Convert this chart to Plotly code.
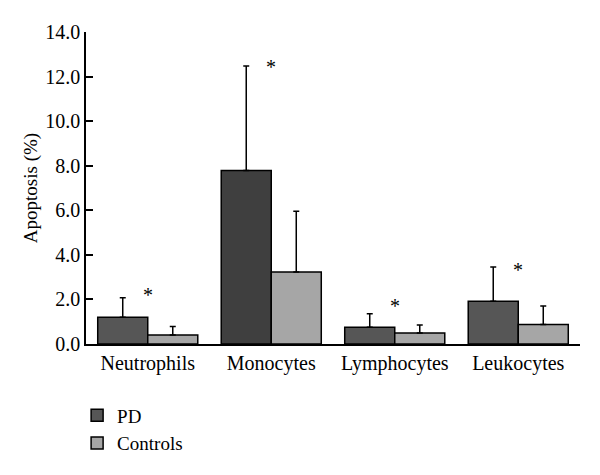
import plotly.graph_objects as go

categories = ["Neutrophils", "Monocytes", "Lymphocytes", "Leukocytes"]
pd_values = [1.20, 7.79, 0.75, 1.92]
pd_err = [0.88, 4.68, 0.61, 1.54]
ctrl_values = [0.40, 3.23, 0.49, 0.88]
ctrl_err = [0.39, 2.73, 0.36, 0.82]
star_y = [2.3, 12.5, 1.8, 3.4]
y_ticks = [0, 2, 4, 6, 8, 10, 12, 14]

FONT = "Liberation Serif"

fig = go.Figure()
fig.add_trace(go.Bar(
    name="PD", x=categories, y=pd_values,
    marker=dict(color=["#565656", "#3f3f3f", "#565656", "#565656"],
                line=dict(color="black", width=1.5)),
    error_y=dict(type="data", array=pd_err, arrayminus=[0] * 4, symmetric=False,
                 color="black", thickness=1.5, width=3),
))
fig.add_trace(go.Bar(
    name="Controls", x=categories, y=ctrl_values,
    marker=dict(color="#a6a6a6", line=dict(color="black", width=1.5)),
    error_y=dict(type="data", array=ctrl_err, arrayminus=[0] * 4, symmetric=False,
                 color="black", thickness=1.5, width=3),
))

for c, sy in zip(categories, star_y):
    fig.add_annotation(x=c, y=sy, text="*", showarrow=False,
                       font=dict(family=FONT, size=20, color="black"),
                       xanchor="center", yanchor="middle", yshift=-2)

fig.update_layout(
    width=592, height=467,
    margin=dict(l=78, r=20, t=24, b=131, autoexpand=False),
    plot_bgcolor="white", paper_bgcolor="white",
    barmode="group", bargap=0.19, bargroupgap=0,
    font=dict(family=FONT, size=19, color="black"),
    showlegend=True,
    legend=dict(x=-0.018, y=-0.168, xanchor="left", yanchor="top",
                font=dict(family=FONT, size=19, color="black"),
                tracegroupgap=0, itemwidth=30),
    xaxis=dict(showline=True, linecolor="black", linewidth=1.5, ticks="",
               showgrid=False, automargin=False, tickfont=dict(family=FONT, size=20)),
    yaxis=dict(range=[0, 14], tickvals=y_ticks, tickformat=".1f",
               showline=True, linecolor="black", linewidth=1.5,
               ticks="inside", ticklen=7, tickwidth=1.5, tickcolor="black",
               showgrid=False, zeroline=False, automargin=False,
               title=dict(text="Apoptosis (%)", font=dict(family=FONT, size=19), standoff=3),
               tickfont=dict(family=FONT, size=20)),
)

fig.write_html("out.html")
